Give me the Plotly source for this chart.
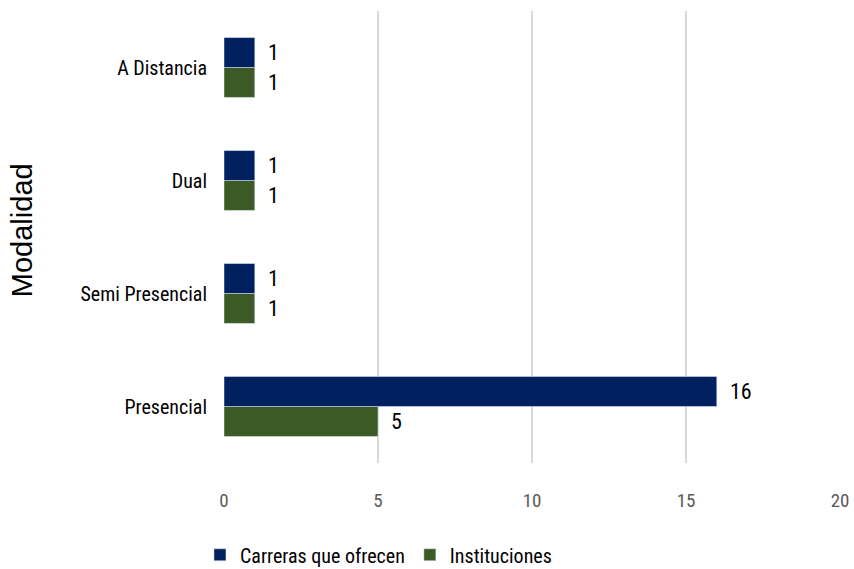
import plotly.graph_objects as go

categories = ["Presencial", "Semi Presencial", "Dual", "A Distancia"]
carreras = [16, 1, 1, 1]
instituciones = [5, 1, 1, 1]
x_ticks = [0, 5, 10, 15, 20]
axis_title = "Modalidad"

NARROW = "Roboto Condensed, Liberation Sans Narrow, sans-serif"

fig = go.Figure()
fig.add_trace(go.Bar(
    y=categories, x=instituciones, orientation="h", name="Instituciones",
    marker=dict(color="#3b5a25"), text=instituciones, texttemplate="  %{x}",
    textposition="outside",
    textfont=dict(family=NARROW, size=22, color="#000000"), cliponaxis=False,
))
fig.add_trace(go.Bar(
    y=categories, x=carreras, orientation="h", name="Carreras que ofrecen",
    marker=dict(color="#002060"), text=carreras, texttemplate="  %{x}",
    textposition="outside",
    textfont=dict(family=NARROW, size=22, color="#000000"), cliponaxis=False,
))

fig.add_annotation(text=axis_title, xref="paper", yref="paper", x=-0.328, y=0.515,
                   xanchor="center", yanchor="middle", textangle=-90, showarrow=False,
                   font=dict(family="Liberation Sans, Arial, sans-serif", size=29, color="#000000"))

fig.update_layout(
    width=854, height=569,
    margin=dict(l=224, r=14, t=11, b=106, autoexpand=False),
    barmode="group", bargap=0.47, bargroupgap=0,
    plot_bgcolor="white", paper_bgcolor="white",
    showlegend=True,
    legend=dict(orientation="h", x=-0.039, y=-0.203, xanchor="left", yanchor="middle",
                traceorder="reversed", itemwidth=30,
                font=dict(family=NARROW, size=20, color="#000000")),
    xaxis=dict(range=[0, 20], tickvals=x_ticks, showgrid=True, gridcolor="#d9d9d9",
               gridwidth=1.5, zeroline=False, showline=False, automargin=False,
               tickfont=dict(family=NARROW, size=19, color="#595959"), ticklabelstandoff=24),
    yaxis=dict(categoryorder="array", categoryarray=categories, automargin=False,
               tickfont=dict(family=NARROW, size=20, color="#000000"),
               showgrid=False, showline=False, ticklen=0, ticklabelstandoff=16),
)

fig.write_html("out.html", config={"displayModeBar": False},
               post_script="document.body.style.margin='0';document.body.style.overflow='hidden';")
